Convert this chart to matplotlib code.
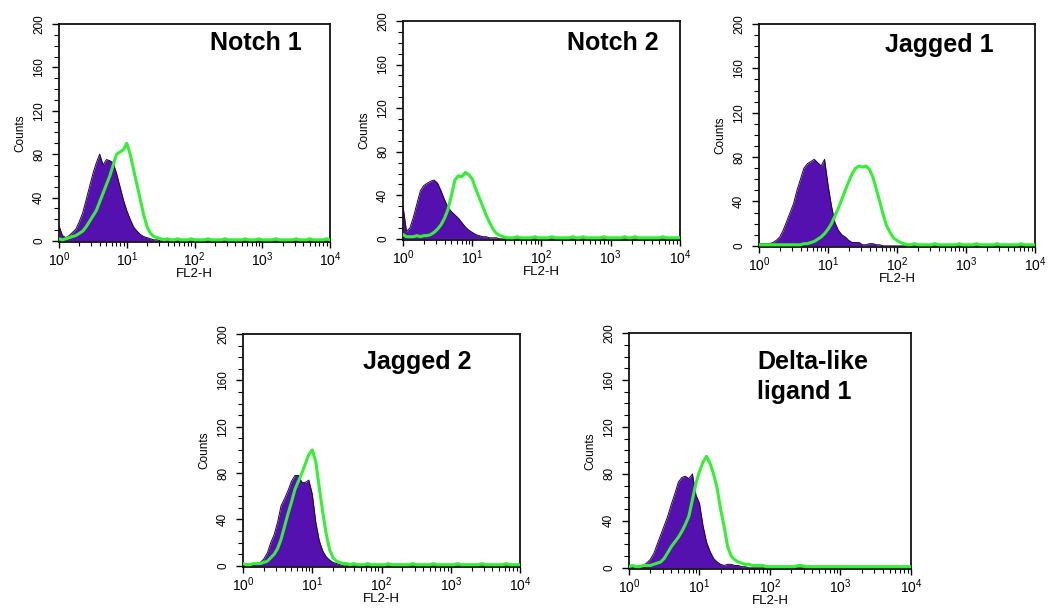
import numpy as np
import matplotlib
matplotlib.use("Agg")
import matplotlib.pyplot as plt
from matplotlib.ticker import FixedLocator, MultipleLocator, LogLocator, NullFormatter

plt.rcParams['font.family'] = ['Liberation Sans', 'DejaVu Sans']
plt.rcParams['mathtext.default'] = 'regular'

# FL2-H channel positions (log10 of fluorescence), 0.05-decade bins from 10^0 to 10^4
log_channel = np.round(np.arange(0, 4.001, 0.05), 2)

titles = ["Notch 1", "Notch 2", "Jagged 1", "Jagged 2", "Delta-like\nligand 1"]

# Isotype control (filled purple) counts per bin, ten bins per row
notch1_ctrl = [14, 5, 3, 5, 8, 11, 18, 26, 38, 50,
               62, 72, 80, 70, 75, 74, 72, 62, 50, 38,
               28, 20, 13, 9, 6, 4, 3, 2, 1, 1,
               0, 0, 0, 0, 0, 0, 0, 0, 0, 0,
               0, 0, 0, 0, 0, 0, 0, 0, 0, 0,
               0, 0, 0, 0, 0, 0, 0, 0, 0, 0,
               0, 0, 0, 0, 0, 0, 0, 0, 0, 0,
               0, 0, 0, 0, 0, 0, 0, 0, 0, 0,
               0]
notch2_ctrl = [30, 7, 10, 20, 32, 44, 49, 51, 53, 54,
               51, 44, 36, 29, 25, 22, 19, 15, 11, 8,
               6, 4, 3, 2, 2, 1, 1, 1, 0, 0,
               0, 0, 0, 0, 0, 0, 0, 0, 0, 0,
               0, 0, 0, 0, 0, 0, 0, 0, 0, 0,
               0, 0, 0, 0, 0, 0, 0, 0, 0, 0,
               0, 0, 0, 0, 0, 0, 0, 0, 0, 0,
               0, 0, 0, 0, 0, 0, 0, 0, 0, 0,
               0]
jagged1_ctrl = [2, 2, 2, 2, 3, 5, 8, 14, 22, 30,
                38, 50, 60, 70, 74, 76, 78, 75, 72, 78,
                55, 36, 21, 14, 10, 8, 5, 3, 3, 3,
                1, 1, 2, 2, 1, 1, 0, 0, 0, 0,
                0, 0, 0, 0, 0, 0, 0, 0, 0, 0,
                0, 0, 0, 0, 0, 0, 0, 0, 0, 0,
                0, 0, 0, 0, 0, 0, 0, 0, 0, 0,
                0, 0, 0, 0, 0, 0, 0, 0, 0, 0,
                0]
jagged2_ctrl = [2, 2, 1, 2, 2, 3, 6, 11, 20, 27,
                38, 52, 58, 65, 73, 78, 78, 72, 72, 74,
                62, 38, 22, 13, 8, 5, 3, 2, 1, 0,
                0, 0, 0, 0, 0, 0, 0, 0, 0, 0,
                0, 0, 0, 0, 0, 0, 0, 0, 0, 0,
                0, 0, 0, 0, 0, 0, 0, 0, 0, 0,
                0, 0, 0, 0, 0, 0, 0, 0, 0, 0,
                0, 0, 0, 0, 0, 0, 0, 0, 0, 0,
                0]
delta1_ctrl = [2, 2, 1, 2, 2, 4, 7, 12, 20, 28,
               36, 44, 54, 63, 73, 77, 78, 76, 80, 62,
               55, 36, 22, 14, 8, 5, 3, 2, 3, 3,
               2, 2, 1, 1, 0, 0, 0, 0, 0, 0,
               0, 0, 0, 0, 0, 0, 0, 0, 0, 0,
               0, 0, 0, 0, 0, 0, 0, 0, 0, 0,
               0, 0, 0, 0, 0, 0, 0, 0, 0, 0,
               0, 0, 0, 0, 0, 0, 0, 0, 0, 0,
               0]

# Specific antibody (green outline) counts per bin, ten bins per row
notch1_stain = [2, 1, 2, 3, 4, 5, 7, 9, 13, 18,
                23, 28, 36, 44, 52, 60, 70, 80, 82, 84,
                90, 80, 66, 52, 38, 24, 13, 7, 4, 3,
                2, 1, 2, 1, 1, 2, 1, 1, 1, 2,
                1, 1, 1, 1, 2, 1, 1, 1, 1, 2,
                1, 1, 1, 1, 1, 2, 1, 1, 1, 2,
                1, 1, 1, 1, 2, 1, 1, 1, 1, 1,
                2, 1, 1, 1, 2, 1, 1, 1, 1, 2,
                1]
notch2_stain = [4, 2, 2, 2, 3, 2, 3, 3, 4, 6,
                9, 13, 19, 27, 40, 54, 58, 57, 61, 59,
                55, 46, 38, 30, 22, 15, 9, 5, 3, 2,
                1, 1, 1, 2, 1, 1, 1, 1, 2, 1,
                1, 1, 1, 2, 1, 1, 1, 1, 1, 2,
                1, 1, 2, 1, 1, 1, 1, 1, 2, 1,
                1, 1, 1, 1, 2, 1, 1, 2, 1, 1,
                1, 1, 1, 1, 1, 2, 1, 1, 1, 1,
                1]
jagged1_stain = [1, 1, 1, 1, 1, 1, 1, 1, 1, 1,
                 1, 1, 1, 2, 2, 3, 4, 6, 8, 11,
                 15, 20, 27, 34, 42, 50, 58, 65, 70, 72,
                 71, 72, 69, 62, 51, 40, 28, 18, 12, 7,
                 5, 3, 2, 1, 1, 2, 1, 1, 1, 1,
                 1, 2, 1, 1, 1, 1, 1, 1, 2, 1,
                 1, 1, 1, 2, 1, 1, 1, 1, 1, 2,
                 1, 1, 1, 1, 1, 1, 2, 1, 1, 1,
                 1]
jagged2_stain = [2, 1, 1, 2, 2, 2, 3, 4, 7, 10,
                 15, 23, 34, 45, 55, 66, 73, 80, 88, 96,
                 100, 90, 68, 47, 28, 14, 7, 4, 3, 2,
                 2, 1, 2, 1, 1, 1, 2, 1, 1, 1,
                 1, 1, 2, 1, 1, 1, 1, 1, 1, 2,
                 1, 1, 1, 1, 1, 2, 1, 1, 1, 1,
                 1, 1, 2, 1, 1, 1, 1, 1, 1, 2,
                 1, 1, 1, 1, 1, 1, 2, 1, 1, 1,
                 1]
delta1_stain = [1, 2, 1, 1, 2, 2, 2, 3, 4, 5,
                8, 13, 18, 22, 26, 31, 37, 44, 58, 72,
                82, 90, 95, 89, 80, 68, 50, 35, 18, 10,
                7, 5, 4, 3, 3, 2, 2, 2, 2, 1,
                1, 1, 1, 1, 1, 1, 1, 1, 2, 2,
                1, 1, 1, 1, 1, 1, 1, 1, 1, 1,
                1, 1, 1, 1, 1, 1, 1, 1, 1, 1,
                1, 1, 1, 1, 1, 1, 1, 1, 1, 1,
                1]

controls = [notch1_ctrl, notch2_ctrl, jagged1_ctrl, jagged2_ctrl, delta1_ctrl]
stains = [notch1_stain, notch2_stain, jagged1_stain, jagged2_stain, delta1_stain]

y_ticks = [0, 40, 80, 120, 160, 200]
x_ticks = [1, 10, 100, 1000, 10000]
x_tick_labels = [r"$10^{0}$", r"$10^{1}$", r"$10^{2}$", r"$10^{3}$", r"$10^{4}$"]

# panel rectangles in figure fraction [left, bottom, width, height]
panel_rects = [
    [0.0558, 0.6065, 0.2561, 0.3545],
    [0.3809, 0.6098, 0.2618, 0.3561],
    [0.7174, 0.5984, 0.2609, 0.3626],
    [0.2297, 0.0780, 0.2618, 0.3789],
    [0.5945, 0.0748, 0.2665, 0.3837],
]
title_pos = [(0.557, 0.968), (0.592, 0.955), (0.457, 0.958), (0.433, 0.93), (0.454, 0.93)]

PURPLE = "#5510b0"
GREEN = "#33f033"

fig = plt.figure(figsize=(10.58, 6.15), dpi=100)

for rect, title, tpos, ctrl, stain in zip(panel_rects, titles, title_pos, controls, stains):
    ax = fig.add_axes(rect)
    x = 10.0 ** log_channel
    c = np.asarray(ctrl, dtype=float)
    s = np.asarray(stain, dtype=float)
    ax.fill_between(x, 0, c, color=PURPLE, lw=0, zorder=2)
    ax.plot(x, c, color="#1a0a2a", lw=0.7, zorder=3)
    ax.plot(x, s, color=GREEN, lw=2.2, zorder=4, solid_joinstyle="round")

    ax.set_xscale("log")
    ax.set_xlim(1, 10000)
    ax.set_ylim(-1, 200)
    ax.xaxis.set_major_locator(FixedLocator(x_ticks))
    ax.set_xticklabels(x_tick_labels)
    ax.xaxis.set_minor_locator(LogLocator(base=10, subs=np.arange(2, 10)))
    ax.xaxis.set_minor_formatter(NullFormatter())
    ax.set_yticks(y_ticks)
    ax.yaxis.set_minor_locator(MultipleLocator(10))

    ax.tick_params(axis="x", which="major", direction="out", length=4.5, width=1,
                   labelsize=10, pad=1.5)
    ax.tick_params(axis="x", which="minor", direction="out", length=3, width=0.8)
    ax.tick_params(axis="y", which="major", direction="out", length=5, width=1,
                   labelsize=8.5, pad=5, labelrotation=90)
    ax.tick_params(axis="y", which="minor", direction="out", length=3.6, width=0.8)
    for lbl in ax.get_yticklabels():
        lbl.set_verticalalignment("center")
    ax.tick_params(top=False, right=False)
    for sp in ax.spines.values():
        sp.set_linewidth(1.3)
        sp.set_color("#111111")

    ax.set_ylabel("Counts", fontsize=8.5, labelpad=5)
    ax.set_xlabel("FL2-H", fontsize=9.5, labelpad=-1)
    ax.text(tpos[0], tpos[1], title, transform=ax.transAxes, ha="left", va="top",
            fontsize=18, fontweight="bold", linespacing=1.35)

fig.savefig("out.png", dpi=100)
